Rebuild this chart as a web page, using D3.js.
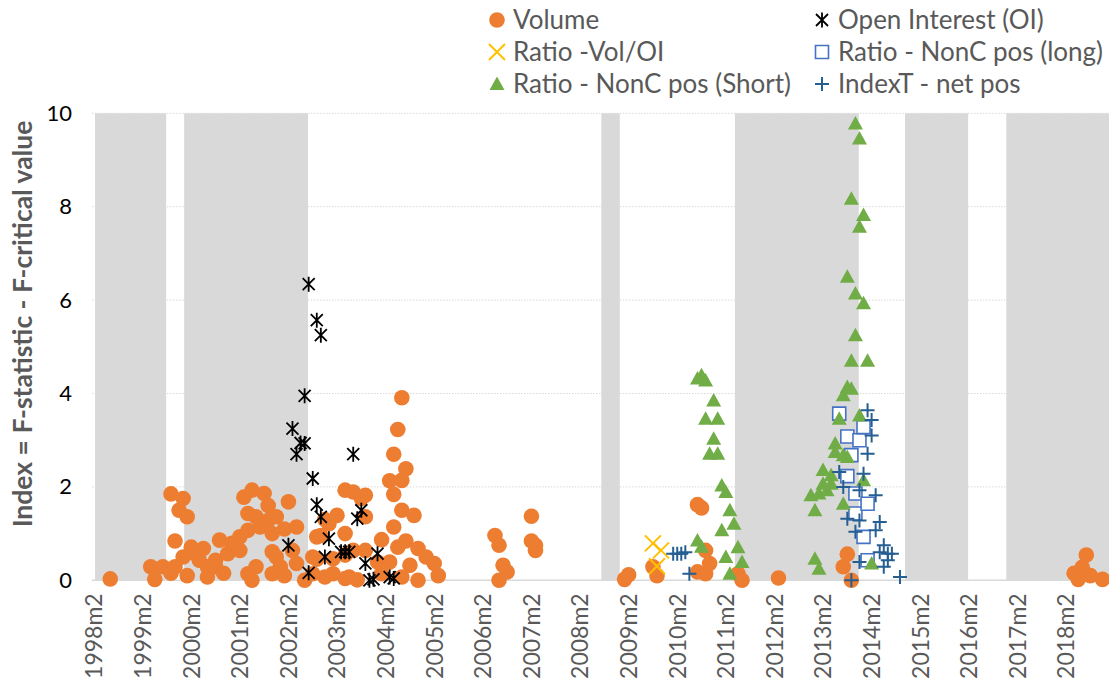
<!DOCTYPE html>
<html>
<head>
<meta charset="utf-8">
<script src="https://cdnjs.cloudflare.com/ajax/libs/d3/7.8.5/d3.min.js"></script>
<style>
  * { margin: 0; padding: 0; }
  body { background: #ffffff; }
  svg text { font-family: Lato, "Open Sans", sans-serif; }
</style>
</head>
<body>
<svg id="chart" width="1109" height="682"></svg>
<script>
// ---- data (month label, value) ----
var volume = [
  ["1998m6",0.03],
  ["1999m4",0.29],["1999m5",0.02],["1999m7",0.29],["1999m9",1.85],["1999m9",0.15],["1999m10",0.84],["1999m10",0.29],
  ["1999m11",1.5],["1999m12",1.75],["1999m12",0.5],
  ["2000m1",1.36],["2000m1",0.1],["2000m2",0.71],["2000m3",0.57],["2000m4",0.43],["2000m5",0.68],["2000m6",0.29],
  ["2000m6",0.07],["2000m8",0.43],["2000m8",0.29],["2000m9",0.86],["2000m10",0.15],["2000m11",0.57],["2000m12",0.79],
  ["2001m2",0.93],["2001m2",0.64],["2001m3",1.78],["2001m4",1.43],["2001m4",1.07],["2001m4",0.14],["2001m5",1.93],
  ["2001m5",0.0],["2001m6",1.36],["2001m6",0.29],["2001m7",1.14],["2001m8",1.86],["2001m9",1.6],["2001m9",1.28],
  ["2001m10",1.0],["2001m10",0.61],["2001m10",0.14],["2001m11",1.36],["2001m11",0.5],["2001m12",0.29],
  ["2002m1",1.1],["2002m1",0.1],["2002m2",1.68],["2002m3",0.64],["2002m4",1.14],["2002m4",0.36],["2002m6",0.0],
  ["2002m8",0.5],["2002m8",0.14],["2002m9",0.93],["2002m9",0.45],["2002m10",0.96],["2002m11",1.3],["2002m11",0.07],
  ["2002m12",1.21],
  ["2003m1",0.46],["2003m1",0.14],["2003m2",1.39],["2003m4",1.93],["2003m4",1.0],["2003m4",0.54],["2003m4",0.04],
  ["2003m5",0.07],["2003m6",1.89],["2003m6",0.64],["2003m7",0.01],["2003m8",1.75],["2003m9",1.82],["2003m9",1.36],
  ["2003m9",0.64],["2003m12",0.39],
  ["2004m1",0.87],["2004m1",0.14],["2004m3",2.13],["2004m3",0.39],["2004m4",2.7],["2004m4",1.84],["2004m4",1.14],
  ["2004m5",3.23],["2004m5",0.71],["2004m6",3.91],["2004m6",2.14],["2004m6",1.5],["2004m6",0.07],["2004m7",2.39],
  ["2004m7",0.84],["2004m8",0.32],["2004m9",1.39],["2004m10",0.68],["2004m10",0.0],["2004m12",0.5],
  ["2005m2",0.36],["2005m3",0.1],
  ["2006m5",0.96],["2006m6",0.75],["2006m6",0.0],["2006m7",0.32],["2006m8",0.18],
  ["2007m2",1.37],["2007m2",0.84],["2007m3",0.75],["2007m3",0.64],
  ["2009m1",0.02],["2009m2",0.12],["2009m8",0.29],["2009m9",0.1],
  ["2010m7",1.62],["2010m7",0.18],["2010m8",1.55],["2010m9",0.64],["2010m9",0.14],["2010m10",0.36],
  ["2011m5",0.14],["2011m6",0.0],["2012m3",0.05],
  ["2013m7",0.29],["2013m8",0.56],["2013m9",0.0],
  ["2018m4",0.15],["2018m5",0.02],["2018m6",0.28],["2018m7",0.54],["2018m8",0.1],["2018m11",0.02]
];

var openInterest = [
  ["2002m2",0.75],["2002m3",3.25],["2002m4",2.7],["2002m5",2.94],["2002m6",2.93],["2002m6",3.95],["2002m7",6.34],
  ["2002m7",0.16],["2002m8",2.18],["2002m9",5.57],["2002m9",1.62],["2002m10",5.25],["2002m10",1.36],["2002m11",0.5],
  ["2002m12",0.89],["2003m3",0.61],["2003m4",0.61],["2003m5",0.61],["2003m6",2.7],["2003m7",1.32],["2003m8",1.5],
  ["2003m9",0.36],["2003m10",0.0],["2003m11",0.02],["2003m12",0.57],["2004m3",0.07],["2004m4",0.04]
];

var ratioVolOI = [["2009m8",0.79],["2009m9",0.3],["2009m10",0.64]];

var nonCLong = [
  ["2013m6",3.57],["2013m8",3.08],["2013m8",2.23],["2013m9",2.68],["2013m10",1.86],["2013m10",1.43],
  ["2013m11",3.0],["2013m12",3.28],["2013m12",0.93],["2014m1",1.64],["2014m1",0.43]
];

var nonCShort = [
  ["2010m7",4.32],["2010m8",4.39],["2010m9",4.28],["2010m11",3.85],["2010m9",3.46],["2010m12",3.46],["2010m11",3.03],
  ["2010m10",2.71],["2010m12",2.71],["2011m1",2.03],["2011m2",1.89],["2011m3",1.5],["2011m4",1.21],["2011m1",1.07],
  ["2010m7",0.85],["2010m8",0.72],["2011m5",0.71],["2011m2",0.5],["2011m6",0.39],["2011m3",0.14],
  ["2012m11",1.82],["2012m12",1.5],["2012m12",0.46],["2013m1",1.86],["2013m1",0.25],["2013m2",2.36],["2013m2",2.07],
  ["2013m3",1.93],["2013m4",2.25],["2013m4",2.07],["2013m5",2.93],["2013m5",2.75],["2013m6",3.46],["2013m7",3.96],
  ["2013m7",2.68],["2013m7",1.64],["2013m8",6.5],["2013m8",4.14],["2013m8",2.64],["2013m9",8.17],["2013m9",4.7],
  ["2013m9",4.1],["2013m10",9.78],["2013m10",6.14],["2013m10",5.25],["2013m11",9.46],["2013m11",7.57],["2013m11",3.53],
  ["2013m12",7.82],["2013m12",5.93],["2013m12",2.14],["2014m1",4.7],["2014m2",0.36]
];

var indexTNet = [
  ["2010m1",0.57],["2010m2",0.57],["2010m3",0.57],["2010m4",0.6],["2010m5",0.14],
  ["2013m6",2.32],["2013m7",2.0],["2013m8",1.32],["2013m9",0.0],["2013m10",1.04],["2013m11",1.93],["2013m11",1.28],
  ["2013m11",0.39],["2013m12",2.28],["2014m1",3.64],["2014m1",2.71],["2014m2",3.43],["2014m2",3.1],["2014m3",1.82],
  ["2014m3",1.07],["2014m4",1.25],["2014m4",0.6],["2014m5",0.75],["2014m5",0.29],["2014m6",0.57],["2014m6",0.43],
  ["2014m7",0.57],["2014m9",0.07]
];

// shaded periods (first month, last month)
var shadedPeriods = [
  ["1998m3","1999m7"],["2000m1","2002m6"],["2008m8","2008m11"],
  ["2011m5","2013m10"],["2014m11","2016m1"],["2016m12","2018m12"]
];

var yTicks = [0, 2, 4, 6, 8, 10];
var yTitle = "Index = F-statistic - F-critical value";

// month categories 1998m2 .. 2018m12
var months = [];
for (var yr = 1998; yr <= 2018; yr++) {
  for (var mo = 1; mo <= 12; mo++) {
    if (yr == 1998 && mo < 2) continue;
    months.push(yr + "m" + mo);
  }
}

var svg = d3.select("#chart");
var left = 92, step = 4.05;

var x = d3.scaleBand()
  .domain(months)
  .range([left, left + months.length * step])
  .padding(0);

var y = d3.scaleLinear()
  .domain([0, 10])
  .range([580.3, 113.3]);

function cx(d) { return x(d[0]) + x.bandwidth() / 2; }
function cy(d) { return y(d[1]); }

var right = x.range()[1];

// gridlines
svg.append("g")
  .selectAll("line")
  .data(yTicks.filter(function (t) { return t > 0; }))
  .join("line")
  .attr("x1", left).attr("x2", right)
  .attr("y1", function (t) { return y(t); })
  .attr("y2", function (t) { return y(t); })
  .attr("stroke", "#d9d9d9")
  .attr("stroke-width", 1)
  .attr("stroke-dasharray", "1.5,1.5");

// shaded periods
svg.append("g")
  .selectAll("rect")
  .data(shadedPeriods)
  .join("rect")
  .attr("x", function (p) { return x(p[0]) - 1; })
  .attr("width", function (p) { return x(p[1]) + x.bandwidth() - x(p[0]) + 2.3; })
  .attr("y", y(10))
  .attr("height", y(0) - y(10))
  .attr("fill", "#d9d9d9");

// baseline
svg.append("line")
  .attr("x1", left).attr("x2", right)
  .attr("y1", y(0)).attr("y2", y(0))
  .attr("stroke", "#d9d9d9")
  .attr("stroke-width", 1.5);

// axes
var xAxis = svg.append("g")
  .attr("transform", "translate(0," + y(0) + ")")
  .call(d3.axisBottom(x)
    .tickValues(months.filter(function (m, i) { return i % 12 == 0; }))
    .tickSize(0));
xAxis.select(".domain").remove();
xAxis.selectAll("text")
  .attr("transform", "rotate(-90)")
  .attr("text-anchor", "end")
  .attr("x", -13)
  .attr("y", 0)
  .attr("dy", "0.36em")
  .style("font-size", "23px")
  .attr("fill", "#595959");

var yAxis = svg.append("g")
  .attr("transform", "translate(" + left + ",0)")
  .call(d3.axisLeft(y).tickValues(yTicks).tickSize(0).tickPadding(20));
yAxis.select(".domain").remove();
yAxis.selectAll("text")
  .style("font-size", "22px")
  .attr("fill", "#000000");

svg.append("text")
  .attr("transform", "translate(23,324) rotate(-90)")
  .attr("text-anchor", "middle")
  .attr("dy", "0.35em")
  .style("font-size", "26.5px")
  .style("font-weight", "bold")
  .attr("fill", "#595959")
  .text(yTitle);

// marker shapes
function starPath() { return "M-6,-6L6,6M-6,6L6,-6M0,-7.5L0,7.5"; }
function xPath() { return "M-8,-8L8,8M-8,8L8,-8"; }
function plusPath() { return "M-7,0L7,0M0,-7L0,7"; }
function squarePath() { return "M-6.5,-6.5H6.5V6.5H-6.5Z"; }
function trianglePath() { return "M0,-7.5L7.5,6L-7.5,6Z"; }

var series = [
  { name: "Volume", data: volume, kind: "circle", fill: "#ed7d31", stroke: "none" },
  { name: "Open Interest (OI)", data: openInterest, path: starPath, fill: "none", stroke: "#000000", width: 1.8 },
  { name: "Ratio -Vol/OI", data: ratioVolOI, path: xPath, fill: "none", stroke: "#ffc000", width: 2 },
  { name: "Ratio - NonC pos (long)", data: nonCLong, path: squarePath, fill: "#ffffff", stroke: "#4472c4", width: 1.6 },
  { name: "Ratio - NonC pos (Short)", data: nonCShort, path: trianglePath, fill: "#70ad47", stroke: "none" },
  { name: "IndexT - net pos", data: indexTNet, path: plusPath, fill: "none", stroke: "#255e91", width: 2 }
];

function drawMarker(g, s) {
  if (s.kind == "circle") {
    g.append("circle").attr("r", 7.8).attr("fill", s.fill);
  } else {
    g.append("path").attr("d", s.path())
      .attr("fill", s.fill)
      .attr("stroke", s.stroke)
      .attr("stroke-width", s.width || 0);
  }
}

series.forEach(function (s) {
  var g = svg.append("g");
  g.selectAll("g")
    .data(s.data)
    .join("g")
    .attr("transform", function (d) { return "translate(" + cx(d) + "," + cy(d) + ")"; })
    .each(function () { drawMarker(d3.select(this), s); });
});

// legend (two columns, row-wise order)
var legendPos = [
  [497, 20], [822, 20],
  [497, 52], [822, 52],
  [497, 84], [822, 84]
];
var legend = svg.append("g");
series.forEach(function (s, i) {
  var item = legend.append("g")
    .attr("transform", "translate(" + legendPos[i][0] + "," + legendPos[i][1] + ")");
  drawMarker(item.append("g"), s);
  item.append("text")
    .attr("x", 16)
    .attr("dy", "0.36em")
    .style("font-size", "26px")
    .attr("fill", "#595959")
    .text(s.name);
});
</script>
</body>
</html>
